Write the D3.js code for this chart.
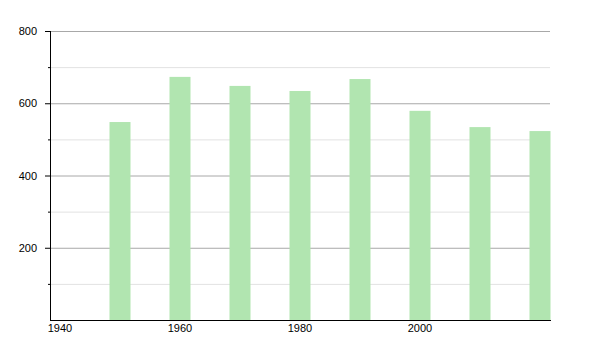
<!DOCTYPE html>
<html>
<head>
<meta charset="utf-8">
<script src="https://cdn.jsdelivr.net/npm/d3@7"></script>
<style>
  body { margin: 0; background: #fff; }
  text { font-family: "Liberation Sans", Arial, sans-serif; font-size: 11px; fill: #000; }
</style>
</head>
<body>
<div id="chart"></div>
<script>
const years = [1950, 1960, 1970, 1980, 1990, 2000, 2010, 2020];
const population = [548, 673, 648, 634, 667, 579, 534, 523];
const yMajor = [200, 400, 600, 800];
const yMinor = [100, 300, 500, 700];
const xTicks = [1940, 1960, 1980, 2000];

const width = 600, height = 350;
const mLeft = 50, mRight = 550, mTop = 31, mBottom = 320;

const svg = d3.select("#chart").append("svg")
    .attr("width", width)
    .attr("height", height);

const x = d3.scaleLinear()
    .domain([1940 - 10 / 6, 2020 + 10 / 6])
    .range([mLeft, mRight]);
const y = d3.scaleLinear()
    .domain([0, 800])
    .range([mBottom, mTop]);

// grid lines
svg.selectAll("line.minor")
    .data(yMinor)
    .enter()
    .append("line")
    .attr("class", "minor")
    .attr("x1", mLeft).attr("x2", mRight)
    .attr("y1", d => y(d) + 0.5).attr("y2", d => y(d) + 0.5)
    .style("stroke", "#e2e2e2")
    .style("stroke-width", 1);
svg.selectAll("line.major")
    .data(yMajor)
    .enter()
    .append("line")
    .attr("class", "major")
    .attr("x1", mLeft).attr("x2", mRight)
    .attr("y1", d => y(d) + 0.5).attr("y2", d => y(d) + 0.5)
    .style("stroke", "#a8a8a8")
    .style("stroke-width", 1);

// bars
const barW = 21;
svg.selectAll("rect")
    .data(years)
    .enter()
    .append("rect")
    .attr("x", d => x(d) - barW / 2)
    .attr("y", (d, i) => y(population[i]))
    .attr("width", barW)
    .attr("height", (d, i) => mBottom - y(population[i]))
    .style("fill", "#b1e5b0");

// y axis
svg.append("line")
    .attr("x1", mLeft + 0.5).attr("x2", mLeft + 0.5)
    .attr("y1", mTop).attr("y2", mBottom + 1)
    .style("stroke", "#000");
svg.selectAll("line.ytick")
    .data(yMajor)
    .enter()
    .append("line")
    .attr("class", "ytick")
    .attr("x1", mLeft - 5).attr("x2", mLeft)
    .attr("y1", d => y(d) + 0.5).attr("y2", d => y(d) + 0.5)
    .style("stroke", "#000");
svg.selectAll("line.yminor")
    .data(yMinor)
    .enter()
    .append("line")
    .attr("class", "yminor")
    .attr("x1", mLeft - 2).attr("x2", mLeft)
    .attr("y1", d => y(d) + 0.5).attr("y2", d => y(d) + 0.5)
    .style("stroke", "#000");
svg.selectAll("text.ylab")
    .data(yMajor)
    .enter()
    .append("text")
    .attr("class", "ylab")
    .attr("x", mLeft - 13)
    .attr("y", d => y(d) + 4)
    .attr("text-anchor", "end")
    .text(d => d);

// x axis
svg.append("line")
    .attr("x1", mLeft).attr("x2", mRight + 1)
    .attr("y1", mBottom + 0.5).attr("y2", mBottom + 0.5)
    .style("stroke", "#000");
svg.selectAll("text.xlab")
    .data(xTicks)
    .enter()
    .append("text")
    .attr("class", "xlab")
    .attr("x", d => x(d))
    .attr("y", mBottom + 12)
    .attr("text-anchor", "middle")
    .text(d => d);
</script>
</body>
</html>
